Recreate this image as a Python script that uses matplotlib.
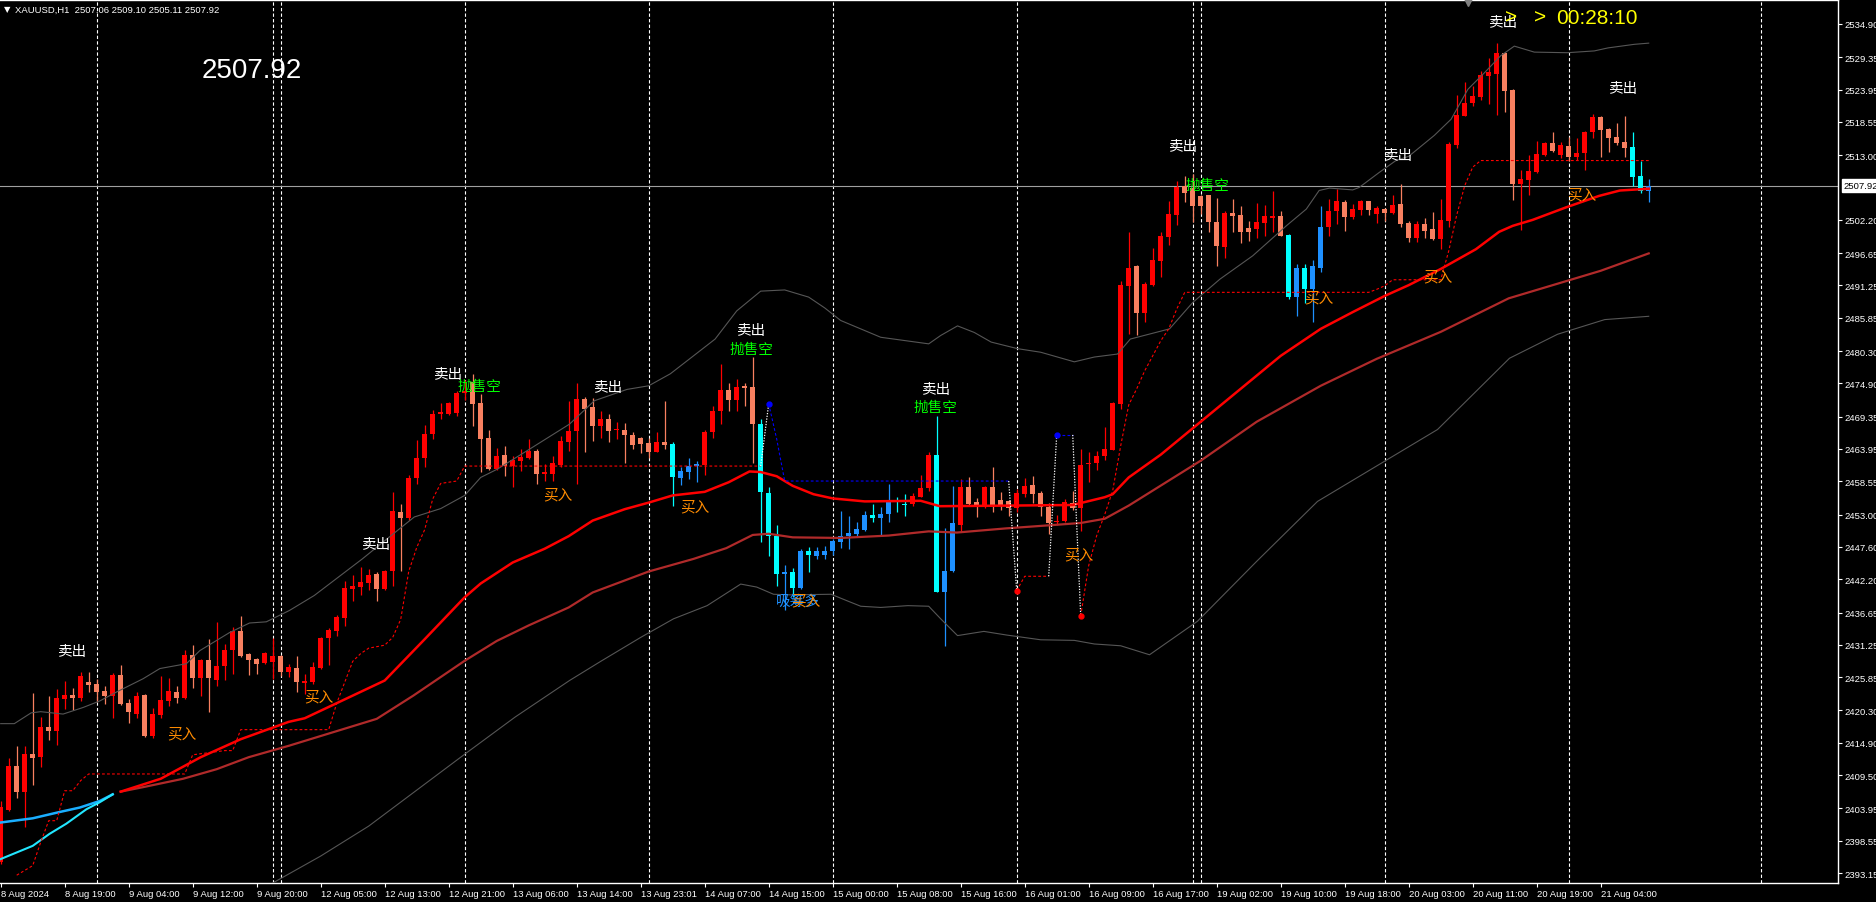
import numpy as np
import matplotlib.pyplot as plt
import matplotlib.transforms as mtrans

plt.rcParams['font.family'] = ['Liberation Sans', 'DejaVu Sans']
CJK = ['Noto Sans CJK SC', 'DejaVu Sans']

# XAUUSD H1, bar 0 = 8 Aug 11:00 ... bar 206 = 21 Aug 10:00
opens = [
    2394.95, 2403.75, 2411.09, 2406.75, 2413.04, 2412.59, 2417.60, 2416.93, 2422.27, 2422.89,
    2422.38, 2425.00, 2424.72, 2423.55, 2422.77, 2426.22, 2421.55, 2419.71, 2422.89, 2415.99,
    2419.60, 2421.94, 2423.39, 2422.44, 2429.56, 2425.67, 2428.67, 2425.45, 2427.67, 2430.40,
    2433.57, 2429.73, 2428.89, 2428.17, 2428.45, 2429.45, 2426.79, 2427.40, 2424.95, 2425.01,
    2427.40, 2432.35, 2433.63, 2435.75, 2440.59, 2440.98, 2441.65, 2443.09, 2440.59, 2443.59,
    2453.44, 2452.44, 2459.12, 2462.40, 2466.46, 2469.74, 2469.80, 2469.97, 2473.25, 2475.09,
    2471.64, 2465.79, 2460.62, 2462.96, 2461.18, 2462.01, 2462.40, 2463.62, 2459.78, 2459.78,
    2461.29, 2465.06, 2466.95, 2472.29, 2470.90, 2467.84, 2468.96, 2467.06, 2467.18, 2466.29,
    2465.84, 2464.89, 2463.50, 2465.06, 2464.73, 2459.05, 2460.05, 2461.06, 2461.28, 2466.73,
    2470.35, 2473.80, 2472.18, 2474.41, 2474.35, 2468.12, 2456.60, 2449.37, 2443.14, 2443.36,
    2440.69, 2446.92, 2446.14, 2446.26, 2446.98, 2448.48, 2449.37, 2449.76, 2450.49, 2452.94,
    2452.49, 2453.05, 2455.33, 2454.83, 2454.72, 2456.00, 2457.39, 2462.95, 2440.14, 2443.59,
    2451.27, 2457.61, 2455.16, 2454.49, 2457.61, 2455.38, 2455.27, 2454.05, 2456.44, 2457.94,
    2456.61, 2454.22, 2451.71, 2451.99, 2454.94, 2454.16, 2461.39, 2461.62, 2462.73, 2463.84,
    2471.46, 2491.22, 2494.44, 2486.66, 2491.33, 2495.39, 2499.40, 2503.07, 2507.80, 2507.46,
    2506.18, 2506.35, 2501.90, 2497.73, 2503.35, 2503.01, 2500.79, 2500.68, 2501.73, 2502.51,
    2502.79, 2499.68, 2489.38, 2494.17, 2490.66, 2494.17, 2501.07, 2503.74, 2505.24, 2502.73,
    2503.90, 2505.29, 2503.12, 2504.01, 2503.35, 2504.85, 2501.68, 2499.12, 2501.51, 2500.68,
    2499.01, 2502.07, 2514.75, 2519.59, 2521.65, 2522.76, 2526.27, 2526.55, 2530.05, 2523.88,
    2508.19, 2508.91, 2510.13, 2513.08, 2515.03, 2513.03, 2514.59, 2512.64, 2513.36, 2516.81,
    2519.32, 2517.37, 2515.98, 2515.25, 2514.31, 2509.58, 2507.06,
]
highs = [
    2405.25, 2412.31, 2414.43, 2414.43, 2423.22, 2419.16, 2422.66, 2423.89, 2425.22, 2424.00,
    2426.67, 2426.67, 2425.56, 2424.33, 2426.56, 2427.89, 2422.22, 2423.44, 2423.10, 2420.66,
    2426.00, 2425.67, 2424.33, 2430.45, 2431.23, 2428.89, 2432.23, 2435.02, 2431.40, 2434.18,
    2436.02, 2429.90, 2429.12, 2430.01, 2432.34, 2429.60, 2428.07, 2429.46, 2426.40, 2428.35,
    2432.52, 2434.02, 2436.25, 2441.92, 2442.93, 2444.20, 2443.93, 2443.48, 2443.80, 2456.72,
    2454.78, 2459.67, 2465.46, 2467.96, 2470.41, 2471.64, 2471.80, 2473.64, 2475.53, 2476.48,
    2473.14, 2467.13, 2464.07, 2464.40, 2462.84, 2463.96, 2465.63, 2463.96, 2461.40, 2462.73,
    2466.18, 2472.02, 2474.97, 2472.57, 2472.41, 2470.35, 2469.79, 2468.40, 2468.29, 2466.73,
    2466.01, 2465.84, 2466.73, 2472.02, 2465.17, 2460.89, 2462.39, 2461.95, 2467.18, 2471.18,
    2478.14, 2474.91, 2475.63, 2474.91, 2479.25, 2468.96, 2457.66, 2451.32, 2444.59, 2444.03,
    2447.26, 2447.53, 2447.53, 2447.70, 2448.93, 2453.54, 2452.82, 2451.71, 2453.66, 2454.77,
    2454.22, 2458.11, 2455.88, 2456.44, 2456.61, 2459.61, 2463.40, 2469.52, 2450.71, 2457.72,
    2458.94, 2459.22, 2455.72, 2457.80, 2460.89, 2456.72, 2455.40, 2457.28, 2459.06, 2459.39,
    2457.00, 2454.94, 2452.94, 2455.61, 2457.00, 2463.95, 2463.40, 2463.67, 2467.57, 2471.74,
    2492.05, 2500.12, 2494.67, 2491.77, 2497.50, 2500.12, 2505.41, 2508.74, 2509.47, 2509.86,
    2506.35, 2506.41, 2505.80, 2503.74, 2505.68, 2504.46, 2502.07, 2505.02, 2504.68, 2507.02,
    2503.63, 2499.84, 2494.83, 2494.83, 2495.50, 2504.46, 2505.68, 2507.35, 2505.52, 2504.85,
    2505.57, 2505.41, 2504.46, 2504.20, 2506.35, 2508.19, 2502.07, 2502.07, 2502.46, 2503.57,
    2505.68, 2515.14, 2523.04, 2525.27, 2524.49, 2527.10, 2529.16, 2531.72, 2530.28, 2524.04,
    2510.58, 2513.03, 2515.42, 2515.25, 2516.92, 2515.14, 2515.98, 2515.81, 2517.09, 2519.87,
    2519.48, 2517.53, 2518.37, 2519.48, 2516.81, 2512.08, 2509.10,
]
lows = [
    2394.68, 2403.52, 2405.64, 2400.91, 2407.92, 2410.81, 2415.43, 2414.60, 2420.55, 2420.44,
    2421.94, 2423.44, 2421.66, 2421.44, 2418.99, 2421.22, 2418.21, 2419.10, 2415.80, 2415.65,
    2419.10, 2421.11, 2421.55, 2422.22, 2424.11, 2422.66, 2419.99, 2424.33, 2425.33, 2426.45,
    2429.30, 2426.22, 2426.34, 2428.00, 2425.56, 2426.00, 2425.84, 2423.45, 2423.06, 2424.73,
    2427.23, 2427.90, 2432.69, 2434.47, 2438.64, 2439.59, 2440.48, 2438.64, 2440.48, 2441.14,
    2443.65, 2452.16, 2458.06, 2460.95, 2465.63, 2468.96, 2469.63, 2469.41, 2472.08, 2467.85,
    2460.06, 2460.50, 2460.51, 2459.51, 2457.67, 2460.34, 2462.29, 2458.11, 2458.67, 2458.67,
    2460.90, 2463.67, 2458.11, 2463.50, 2465.34, 2465.73, 2465.17, 2465.62, 2461.61, 2463.95,
    2463.23, 2462.39, 2463.39, 2463.95, 2454.49, 2458.00, 2458.94, 2458.50, 2459.66, 2465.73,
    2468.12, 2470.35, 2470.35, 2471.18, 2461.61, 2448.48, 2446.03, 2441.14, 2437.13, 2439.19,
    2440.58, 2443.36, 2445.59, 2445.59, 2446.26, 2447.37, 2447.26, 2449.37, 2450.32, 2451.82,
    2449.49, 2451.82, 2453.49, 2452.71, 2454.49, 2455.88, 2457.00, 2440.00, 2431.12, 2443.37,
    2450.04, 2454.38, 2452.66, 2454.05, 2453.38, 2453.83, 2452.71, 2453.49, 2455.88, 2454.94,
    2452.82, 2449.76, 2451.27, 2451.71, 2453.83, 2450.32, 2458.39, 2460.50, 2462.17, 2463.70,
    2470.63, 2483.15, 2483.00, 2485.10, 2491.22, 2492.72, 2498.06, 2501.34, 2505.13, 2501.90,
    2503.18, 2500.12, 2494.56, 2495.84, 2500.23, 2498.34, 2498.73, 2499.12, 2499.45, 2500.23,
    2499.45, 2488.99, 2486.10, 2488.32, 2485.21, 2493.55, 2499.56, 2501.51, 2500.40, 2502.35,
    2503.07, 2503.07, 2501.68, 2502.07, 2503.18, 2500.95, 2498.45, 2498.45, 2499.12, 2498.90,
    2497.34, 2500.95, 2514.14, 2519.48, 2521.26, 2522.26, 2521.54, 2519.71, 2520.26, 2505.57,
    2500.51, 2506.41, 2510.00, 2512.92, 2513.58, 2512.53, 2512.08, 2512.25, 2510.58, 2515.81,
    2512.75, 2513.58, 2514.70, 2512.64, 2507.91, 2506.63, 2505.11,
]
closes = [
    2404.13, 2411.09, 2406.75, 2413.04, 2412.43, 2417.60, 2416.93, 2422.33, 2422.89, 2422.44,
    2426.00, 2424.56, 2423.44, 2422.77, 2426.22, 2421.38, 2419.99, 2422.77, 2415.99, 2419.66,
    2422.05, 2423.55, 2422.44, 2429.56, 2425.67, 2428.78, 2425.67, 2427.67, 2430.40, 2433.57,
    2429.45, 2428.78, 2428.00, 2429.90, 2429.34, 2426.78, 2427.57, 2425.01, 2425.23, 2427.57,
    2432.41, 2433.74, 2435.97, 2440.76, 2441.09, 2441.76, 2442.93, 2440.59, 2443.59, 2453.61,
    2452.44, 2459.12, 2462.45, 2466.46, 2469.80, 2470.08, 2471.64, 2473.36, 2473.69, 2471.52,
    2465.63, 2460.62, 2462.73, 2461.18, 2462.07, 2462.68, 2463.62, 2459.78, 2460.06, 2461.56,
    2465.35, 2466.95, 2472.29, 2470.63, 2467.84, 2468.96, 2467.01, 2467.29, 2466.29, 2464.67,
    2464.84, 2463.39, 2465.06, 2464.62, 2459.22, 2460.28, 2461.17, 2461.44, 2466.79, 2470.35,
    2473.80, 2472.18, 2474.35, 2474.19, 2468.12, 2456.72, 2449.37, 2443.08, 2443.36, 2440.69,
    2446.92, 2446.31, 2446.92, 2446.92, 2448.65, 2449.37, 2449.93, 2450.60, 2452.94, 2452.49,
    2453.10, 2455.27, 2455.11, 2454.60, 2456.05, 2457.39, 2462.95, 2440.14, 2443.59, 2451.60,
    2457.61, 2454.77, 2454.60, 2457.61, 2454.49, 2454.60, 2454.05, 2456.61, 2457.72, 2456.44,
    2454.22, 2451.60, 2451.99, 2455.05, 2454.16, 2461.28, 2461.56, 2462.84, 2463.95, 2471.63,
    2491.33, 2494.16, 2486.66, 2491.50, 2495.50, 2499.45, 2503.18, 2507.74, 2506.69, 2504.57,
    2504.57, 2501.79, 2497.89, 2503.35, 2502.90, 2500.23, 2500.23, 2501.84, 2502.90, 2502.85,
    2499.56, 2489.38, 2494.17, 2490.66, 2494.44, 2500.95, 2503.63, 2505.35, 2502.73, 2503.96,
    2505.29, 2503.90, 2504.13, 2503.29, 2504.68, 2501.51, 2499.12, 2501.51, 2500.40, 2499.01,
    2502.18, 2514.86, 2519.71, 2521.71, 2522.82, 2526.38, 2526.94, 2530.05, 2523.77, 2508.19,
    2509.02, 2510.41, 2513.19, 2515.03, 2513.75, 2514.70, 2512.64, 2513.36, 2516.87, 2519.32,
    2517.26, 2515.92, 2515.03, 2514.25, 2509.41, 2506.96, 2507.92,
]

# bars painted in the cyan / blue scheme
blue_zones = [(84, 87), (95, 113), (117, 119), (161, 165), (204, 206)]

# moving averages (bar, price)
ma_fast_bars = [15, 20, 25, 30, 36, 38, 48, 53, 58, 60, 64, 68, 71, 74, 78, 81, 84, 88, 91, 93.6, 95,
                97, 99, 101.6, 104, 108, 115, 117.4, 126, 134, 138, 139, 141, 145, 150, 155, 160,
                165, 169, 173, 176, 180, 184.4, 187.3, 189, 191.5, 195.7, 199.8, 202.4, 206]
ma_fast_vals = [2406.75, 2408.9, 2412.5, 2415.5, 2418.4, 2419.0, 2425.3, 2432.2, 2439.2, 2441.5,
                2445.0, 2447.3, 2449.4, 2452.0, 2453.9, 2455.0, 2456.2, 2456.8, 2458.4, 2460.2,
                2460.1, 2459.4, 2457.8, 2456.4, 2455.7, 2455.2, 2455.3, 2454.4, 2454.5, 2454.6,
                2455.9, 2456.4, 2459.2, 2463.0, 2468.5, 2474.0, 2479.5, 2484.0, 2486.8, 2489.5,
                2491.3, 2494.0, 2497.3, 2500.2, 2501.2, 2502.2, 2504.3, 2506.2, 2507.1, 2507.4]
ma_slow_bars = [15, 17.8, 22.8, 27, 31, 36, 47, 51.6, 58, 62, 66, 71, 74, 81, 86.6, 90.7, 94, 96,
                99, 105, 111, 116, 119.5, 125.7, 132, 135, 138, 141, 150, 157, 165, 172, 180,
                188.5, 194.5, 200, 206]
ma_slow_vals = [2406.75, 2407.5, 2408.9, 2410.5, 2412.5, 2414.4, 2418.9, 2422.8, 2428.6, 2431.9,
                2434.5, 2437.5, 2440.0, 2443.5, 2445.6, 2447.4, 2449.6, 2449.8, 2449.2, 2449.1,
                2449.5, 2450.2, 2450.0, 2450.7, 2451.3, 2451.6, 2452.3, 2454.5, 2462.0, 2468.5,
                2474.5, 2479.0, 2483.5, 2489.1, 2491.5, 2493.7, 2496.6]
# cyan lines at the far left
cyan_a_bars = [0, 4, 7.2, 9.9, 12.4, 14]
cyan_a_vals = [2401.6, 2402.3, 2403.3, 2404.1, 2405.2, 2406.3]
cyan_b_bars = [0, 4, 6.1, 8.2, 10.7, 12.4, 14]
cyan_b_vals = [2395.5, 2397.7, 2399.7, 2401.4, 2403.8, 2405.0, 2406.3]

# bands
bb_up_bars = [0, 1.7, 3.8, 5, 7.8, 10.3, 12.4, 14.5, 17.8, 19.9, 23.2, 24.9, 28.6, 31.1, 33.2, 36.1,
              39.2, 45.2, 48.8, 51.7, 55, 58, 60, 62.1, 66.2, 71.1, 74.2, 78.3, 81, 83.7, 86.6, 89.3,
              92, 95, 98, 101, 103, 105, 110, 116, 117.5, 119.6, 121.7, 123.8, 127.1, 130, 134.2,
              136.7, 139.6, 141.2, 146.1, 149, 152.4, 156.5, 160.7, 163.2, 164.8, 166.1, 169, 169.8,
              172.3, 174.4, 176, 179.2, 181.3, 183.4, 185.5, 187.5, 189.2, 191.7, 195.8, 199.2,
              200.9, 204.2, 206]
bb_up_vals = [2418.1, 2418.1, 2419.9, 2420.1, 2419.7, 2420.8, 2421.9, 2423.4, 2425.6, 2427.3,
              2428.1, 2430.3, 2433.3, 2434.9, 2435.1, 2437.0, 2439.5, 2445.6, 2449.5, 2452.6,
              2454.0, 2456.2, 2459.2, 2460.6, 2464.0, 2468.1, 2472.0, 2473.9, 2474.5, 2476.5,
              2479.5, 2482.3, 2487.0, 2490.3, 2490.5, 2489.3, 2487.5, 2485.4, 2482.6, 2481.5,
              2482.9, 2484.5, 2483.4, 2481.8, 2480.7, 2480.1, 2478.5, 2479.3, 2479.8, 2482.3,
              2484.0, 2488.4, 2492.3, 2496.2, 2501.2, 2504.0, 2507.1, 2507.5, 2507.2, 2507.6,
              2510.1, 2512.1, 2512.8, 2516.3, 2519.0, 2524.0, 2526.8, 2529.6, 2531.2, 2530.2,
              2530.1, 2530.4, 2530.9, 2531.5, 2531.7]
bb_lo_bars = [34, 40, 46, 52, 58, 64.3, 71.1, 75, 80, 84.1, 88.3, 92.5, 94.5, 96.6, 98.7, 103.8, 106,
              107.5, 110, 113.4, 116, 117.5, 119.6, 122.9, 125.7, 130, 134.2, 136.7, 140, 143.6,
              149.6, 157, 164.6, 179.6, 188.6, 194.6, 200.5, 206]
bb_lo_vals = [2391.5, 2396.0, 2401.0, 2407.0, 2413.0, 2419.2, 2425.3, 2428.5, 2432.5, 2435.6,
              2437.8, 2441.4, 2440.9, 2439.7, 2439.6, 2439.7, 2438.5, 2437.7, 2437.5, 2437.8,
              2437.7, 2435.6, 2432.8, 2433.5, 2432.9, 2432.1, 2432.0, 2431.4, 2431.1, 2429.6,
              2435.2, 2445.2, 2455.2, 2467.2, 2479.1, 2483.1, 2485.55, 2486.1]

# trailing stop, one list per segment, alternating up (red) / down (blue)
stop_segments = [
    ('up', [2, 3, 4, 5, 6, 7, 8, 9, 10, 11, 23, 24, 28, 29, 30, 41, 42, 43, 44, 45, 46, 48, 49, 50,
            51, 52, 53, 54, 55, 57, 58, 95],
           [2392.8, 2393.6, 2394.4, 2398.3, 2401.9, 2401.9, 2406.9, 2406.9, 2408.6, 2409.7, 2409.7,
            2412.9, 2413.6, 2413.6, 2417.1, 2417.1, 2421.5, 2425.0, 2428.5, 2429.8, 2430.7, 2431.2,
            2432.5, 2435.5, 2443.5, 2447.5, 2450.5, 2455.6, 2458.2, 2458.6, 2461.1, 2461.1]),
    ('dn', [96, 97, 98, 126], [2471.5, 2465.6, 2458.6, 2458.6]),
    ('up', [127, 128, 131], [2440.3, 2442.7, 2442.7]),
    ('dn', [132, 134], [2466.3, 2466.3]),
    ('up', [135, 136, 137, 138, 139, 140, 141, 142, 143, 144, 145, 146, 147, 148, 171, 172, 173, 174,
            180, 181, 182, 183, 184, 185, 206],
           [2436.1, 2444.5, 2449.5, 2453.0, 2457.0, 2464.5, 2471.3, 2474.0, 2477.0, 2479.5, 2482.0,
            2484.0, 2487.3, 2490.1, 2490.1, 2490.6, 2491.2, 2492.2, 2492.2, 2497.0, 2503.0, 2507.9,
            2511.0, 2512.1, 2512.1]),
]

# signal labels (bar, price)
sell_bars = [8.9, 46.9, 55.9, 75.9, 93.8, 116.9, 147.8, 174.6, 187.8, 202.8]
sell_prices = [2430.2, 2448.1, 2476.5, 2474.3, 2483.8, 2474.0, 2514.5, 2513.0, 2535.2, 2524.2]
short_bars = [59.8, 93.9, 116.9, 150.8]
short_prices = [2474.5, 2480.7, 2470.9, 2508.0]
buy_bars = [22.7, 39.8, 69.7, 86.8, 100.7, 134.8, 164.8, 179.7, 197.7]
buy_prices = [2416.4, 2422.7, 2456.4, 2454.4, 2438.7, 2446.3, 2489.2, 2492.7, 2506.4]
accum_bar, accum_price = 99.7, 2438.6

separator_bars = [12, 34, 35, 58, 81, 104, 127, 149, 150, 173, 196, 220]

time_labels = ['8 Aug 2024', '8 Aug 19:00', '9 Aug 04:00', '9 Aug 12:00', '9 Aug 20:00',
               '12 Aug 05:00', '12 Aug 13:00', '12 Aug 21:00', '13 Aug 06:00', '13 Aug 14:00',
               '13 Aug 23:01', '14 Aug 07:00', '14 Aug 15:00', '15 Aug 00:00', '15 Aug 08:00',
               '15 Aug 16:00', '16 Aug 01:00', '16 Aug 09:00', '16 Aug 17:00', '19 Aug 02:00',
               '19 Aug 10:00', '19 Aug 18:00', '20 Aug 03:00', '20 Aug 11:00', '20 Aug 19:00',
               '21 Aug 04:00']
price_ticks = [2534.90, 2529.35, 2523.95, 2518.55, 2513.00, 2502.20, 2496.65, 2491.25, 2485.85,
               2480.30, 2474.90, 2469.35, 2463.95, 2458.55, 2453.00, 2447.60, 2442.20, 2436.65,
               2431.25, 2425.85, 2420.30, 2414.90, 2409.50, 2403.95, 2398.55, 2393.15]
last_price = 2507.92

W, H = 1876, 903
fig = plt.figure(figsize=(W / 100, H / 100), dpi=100, facecolor='black')
ax = fig.add_axes([0, 19 / H, 1838 / W, 883 / H], facecolor='black')
ax.set_xlim(-0.0875, 229.66)
ax.set_ylim(2391.50, 2538.90)

# period separators
for b in separator_bars:
    ax.axvline(b, color='white', lw=0.8, ls=(0, (3, 2)), zorder=1)

ax.axhline(last_price, color='#a0a0a0', lw=0.8, zorder=1)

# candles
o = np.array(opens); h = np.array(highs); l = np.array(lows); c = np.array(closes)
x = np.arange(len(o))
in_blue = np.zeros(len(o), bool)
for a, b in blue_zones:
    in_blue[a:b + 1] = True
up = c >= o
cols = np.where(in_blue, np.where(up, '#1E90FF', '#00FFFF'), np.where(up, '#FF0000', '#F88060'))
ax.vlines(x, l, h, colors=cols, lw=0.9, zorder=2)
ax.bar(x, np.maximum(np.abs(c - o), 0.17), bottom=np.minimum(o, c), width=0.62,
       color=cols, linewidth=0, zorder=3)

# bands
ax.plot(bb_up_bars, bb_up_vals, color='#565656', lw=0.8, zorder=4)
ax.plot(bb_lo_bars, bb_lo_vals, color='#565656', lw=0.8, zorder=4)

# moving averages
ax.plot(ma_slow_bars, ma_slow_vals, color='#B02A2A', lw=1.6, zorder=5)
ax.plot(ma_fast_bars, ma_fast_vals, color='#FF0000', lw=1.8, zorder=5)
ax.plot(cyan_a_bars, cyan_a_vals, color='#1AAEFF', lw=1.8, zorder=5)
ax.plot(cyan_b_bars, cyan_b_vals, color='#22E6FF', lw=1.5, zorder=5)

# trailing stop
prev = None
for kind, bx, bv in stop_segments:
    col = '#FF0000' if kind == 'up' else '#0000FF'
    ax.plot(bx, bv, color=col, lw=0.8, ls=(0, (2.5, 2)), zorder=6)
    if prev is not None:
        ax.plot([prev[0], bx[0]], [prev[1], bv[0]], color='white', lw=0.9,
                ls=(0, (1, 1.2)), zorder=6)
        ax.plot(bx[0], bv[0], 'o', color=col, ms=3.5, zorder=7)
    prev = (bx[-1], bv[-1])

# signal labels
for b, p in zip(sell_bars, sell_prices):
    ax.text(b, p, '卖出', color='white', fontsize=10.5, family=CJK, ha='center', va='center', zorder=8)
for b, p in zip(short_bars, short_prices):
    ax.text(b, p, '抛售空', color='#00FF00', fontsize=10.5, family=CJK, ha='center', va='center', zorder=8)
ax.text(accum_bar, accum_price, '吸筹多', color='#1E90FF', fontsize=10.5, family=CJK,
        ha='center', va='center', zorder=8)
for b, p in zip(buy_bars, buy_prices):
    ax.text(b, p, '买入', color='#FF8C00', fontsize=10.5, family=CJK, ha='center', va='center', zorder=9)

# axes frame and ticks
for s in ['top', 'right', 'bottom']:
    ax.spines[s].set_color('white')
    ax.spines[s].set_linewidth(1)
ax.spines['left'].set_visible(False)

ax.yaxis.tick_right()
ax.set_yticks(price_ticks)
ax.set_yticklabels(['%.2f' % p for p in price_ticks])
ax.tick_params(axis='y', colors='white', labelsize=6.8, length=3, width=0.8, pad=2)
ax.set_xticks(np.arange(0, 8 * len(time_labels), 8))
ax.set_xticklabels(time_labels)
ax.tick_params(axis='x', colors='white', labelsize=6.8, length=3, width=0.8, pad=1.5)
for lbl in ax.get_xticklabels():
    lbl.set_ha('left')

trans = mtrans.blended_transform_factory(ax.transAxes, ax.transData)
ax.text(1.003, last_price, '%.2f' % last_price, transform=trans, color='black', fontsize=6.8,
        va='center', ha='left', bbox=dict(facecolor='white', edgecolor='white', pad=1.2), zorder=10)

ax.plot(183.4, 2538.5, marker='v', color='#808080', ms=6, clip_on=False, zorder=10)

# header and overlays
fig.text(4 / W, 1 - 10 / H, '▼', color='white', fontsize=6, va='center', family=['DejaVu Sans'])
fig.text(15 / W, 1 - 10 / H, 'XAUUSD,H1  2507.06 2509.10 2505.11 2507.92', color='white',
         fontsize=6.8, va='center')
fig.text(252 / W, 1 - 71 / H, '2507.92', color='white', fontsize=20, ha='center', va='center')
fig.text(1505 / W, 1 - 18 / H, '>', color='#FFFF00', fontsize=15, va='center')
fig.text(1534 / W, 1 - 18 / H, '>', color='#FFFF00', fontsize=15, va='center')
fig.text(1556 / W, 1 - 18 / H, '00:28:10', color='#FFFF00', fontsize=15, va='center')

fig.savefig('out.png', dpi=100, facecolor='black')
